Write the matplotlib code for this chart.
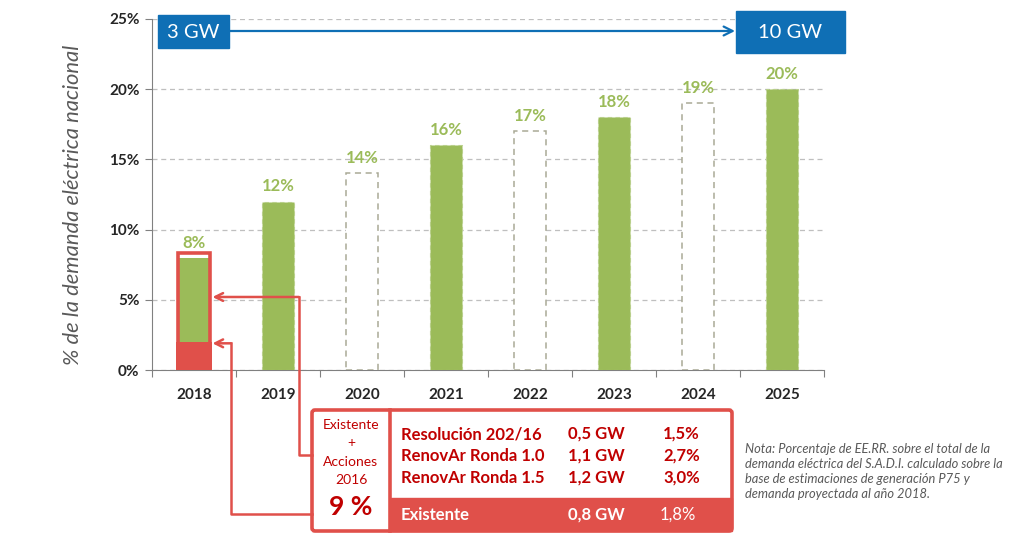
#!/usr/bin/env python3
"""Share of renewable energy in national electricity demand, 2018-2025."""

import matplotlib
matplotlib.use('Agg')
import matplotlib.pyplot as plt
import matplotlib.patches as mpatches

# ---- data ---------------------------------------------------------------
years = ['2018', '2019', '2020', '2021', '2022', '2023', '2024', '2025']
values = [8, 12, 14, 16, 17, 18, 19, 20]          # % of national demand
is_target_only = [False, False, True, False, True, False, True, False]
existing_2018 = 2.0                               # existing capacity share

table_rows = ['Resolución 202/16', 'RenovAr Ronda 1.0', 'RenovAr Ronda 1.5']
table_gw = ['0,5 GW', '1,1 GW', '1,2 GW']
table_pct = ['1,5%', '2,7%', '3,0%']
existing_row = ('Existente', '0,8 GW', '1,8%')

yticks = [0, 5, 10, 15, 20, 25]
start_label = '3 GW'
end_label = '10 GW'

# ---- style --------------------------------------------------------------
W, H = 1024, 541
GREEN = '#9BBB59'
RED = '#E0504A'
DARK_RED = '#C00000'
BLUE = '#0F6FB5'
GRID = '#BFBFBF'
plt.rcParams['font.family'] = ['Lato', 'DejaVu Sans']

fig = plt.figure(figsize=(W / 100, H / 100), dpi=100)
fig.patch.set_facecolor('white')

ax = fig.add_axes([152 / W, 171 / H, 672 / W, 351 / H])
ax.set_xlim(-0.5, 7.5)
ax.set_ylim(0, 25)

x = list(range(len(years)))
bar_w = 0.39
for i, (v, tgt) in enumerate(zip(values, is_target_only)):
    if tgt:
        ax.bar(i, v, width=bar_w, facecolor='white', edgecolor='#A9A996',
               linestyle=(0, (4, 3)), linewidth=1.1, zorder=3)
    elif i == 0:
        ax.bar(i, existing_2018, width=0.42, color=RED, zorder=3)
        ax.bar(i, v - existing_2018, bottom=existing_2018, width=0.36,
               color=GREEN, zorder=3)
        ax.bar(i, v + 0.33, width=0.38, facecolor='none', edgecolor=RED,
               linewidth=2.6, zorder=4)
    else:
        ax.bar(i, v, width=bar_w, color=GREEN, edgecolor='#B8CF8A',
               linestyle=(0, (4, 3)), linewidth=0.8, zorder=3)
    ax.text(i, v + 1.07, f'{v}%', ha='center', va='center', fontsize=12,
            fontweight='bold', color=GREEN, zorder=5)

# axes decoration
ax.set_yticks(yticks)
ax.set_yticklabels([f'{t}%' for t in yticks], fontsize=11, fontweight='bold',
                   color='#262626')
ax.yaxis.grid(True, linestyle=(0, (4, 3)), color=GRID, linewidth=0.9, zorder=0)
ax.set_xticks([k - 0.5 for k in range(len(years) + 1)])
ax.set_xticklabels([])
ax.set_xticks(x, minor=True)
ax.set_xticklabels(years, minor=True, fontsize=11, fontweight='bold',
                   color='#262626')
ax.tick_params(axis='x', which='major', length=5, color='#808080')
ax.tick_params(axis='x', which='minor', length=0, pad=13)
ax.tick_params(axis='y', length=5, color='#808080', pad=4)
for s in ['top', 'right']:
    ax.spines[s].set_visible(False)
for s in ['left', 'bottom']:
    ax.spines[s].set_color('#808080')
ax.set_ylabel('% de la demanda eléctrica nacional', fontsize=15.8,
              style='italic', color='#595959')
ax.yaxis.set_label_coords(-0.103, 0.47)

# ---- overlay in pixel coordinates (y measured from top) ------------------
ov = fig.add_axes([0, 0, 1, 1], zorder=10)
ov.set_xlim(0, W)
ov.set_ylim(H, 0)
ov.axis('off')
ov.patch.set_alpha(0)


def to_px(xd, yd):
    dx, dy = ax.transData.transform((xd, yd))
    return dx, H - dy


# capacity boxes and arrow
ov.add_patch(mpatches.Rectangle((158, 15), 71, 33, color=BLUE))
ov.text(193.5, 32, start_label, ha='center', va='center', fontsize=14.5,
        color='white')
ov.add_patch(mpatches.Rectangle((736, 11), 109, 42, color=BLUE))
ov.text(790.5, 32.5, end_label, ha='center', va='center', fontsize=14.5,
        color='white')
ov.annotate('', xy=(735, 31), xytext=(229, 31),
            arrowprops=dict(arrowstyle='->', color=BLUE, lw=1.6,
                            mutation_scale=16, shrinkA=0, shrinkB=0))

# connectors from the table to the 2018 bar
edge_x, _ = to_px(0.19 + 0.03, 0)
_, y_hi = to_px(0, 5.2)
_, y_lo = to_px(0, 1.9)
ov.plot([312, 299, 299], [455, 455, y_hi], color=RED, lw=1.8, zorder=2)
ov.plot([312, 231, 231], [514, 514, y_lo], color=RED, lw=1.8, zorder=2)
for yy, xs in [(y_hi, 299), (y_lo, 231)]:
    ov.annotate('', xy=(edge_x, yy), xytext=(xs, yy),
                arrowprops=dict(arrowstyle='->', color=RED, lw=1.8,
                                mutation_scale=14, shrinkA=0, shrinkB=0))

# table
ov.add_patch(mpatches.Rectangle((391, 498), 341, 33, color=RED, zorder=3))
ov.add_patch(mpatches.FancyBboxPatch((312, 410), 420, 121,
                                     boxstyle='round,pad=0,rounding_size=3',
                                     facecolor='none', edgecolor=RED, lw=2.6,
                                     zorder=4))
ov.plot([390, 390], [410, 531], color=RED, lw=2.6, zorder=4)

left_lines = [('Existente', 425), ('+', 443), ('Acciones', 462), ('2016', 480)]
for txt, yy in left_lines:
    ov.text(351, yy, txt, ha='center', va='center', fontsize=10,
            color=DARK_RED, zorder=5)
ov.text(351, 507, '9 %', ha='center', va='center', fontsize=19,
        fontweight='bold', color=DARK_RED, zorder=5)

for k, (name, gw, pct) in enumerate(zip(table_rows, table_gw, table_pct)):
    yy = 434 + k * 22
    ov.text(401, yy, name, ha='left', va='center', fontsize=12,
            fontweight='bold', color=DARK_RED, zorder=5)
    ov.text(568, yy, gw, ha='left', va='center', fontsize=12,
            fontweight='bold', color=DARK_RED, zorder=5)
    ov.text(700, yy, pct, ha='right', va='center', fontsize=12,
            fontweight='bold', color=DARK_RED, zorder=5)
ov.text(401, 515, existing_row[0], ha='left', va='center', fontsize=12,
        fontweight='bold', color='white', zorder=5)
ov.text(568, 515, existing_row[1], ha='left', va='center', fontsize=12,
        fontweight='bold', color='white', zorder=5)
ov.text(696, 515, existing_row[2], ha='right', va='center', fontsize=12,
        color='white', zorder=5)

note = ('Nota: Porcentaje de EE.RR. sobre el total de la\n'
        'demanda eléctrica del S.A.D.I. calculado sobre la\n'
        'base de estimaciones de generación P75 y\n'
        'demanda proyectada al año 2018.')
ov.text(745, 443, note, ha='left', va='top', fontsize=9.3, style='italic',
        color='#595959', linespacing=1.3)

fig.savefig('out.png', dpi=100, facecolor='white')
plt.close(fig)
